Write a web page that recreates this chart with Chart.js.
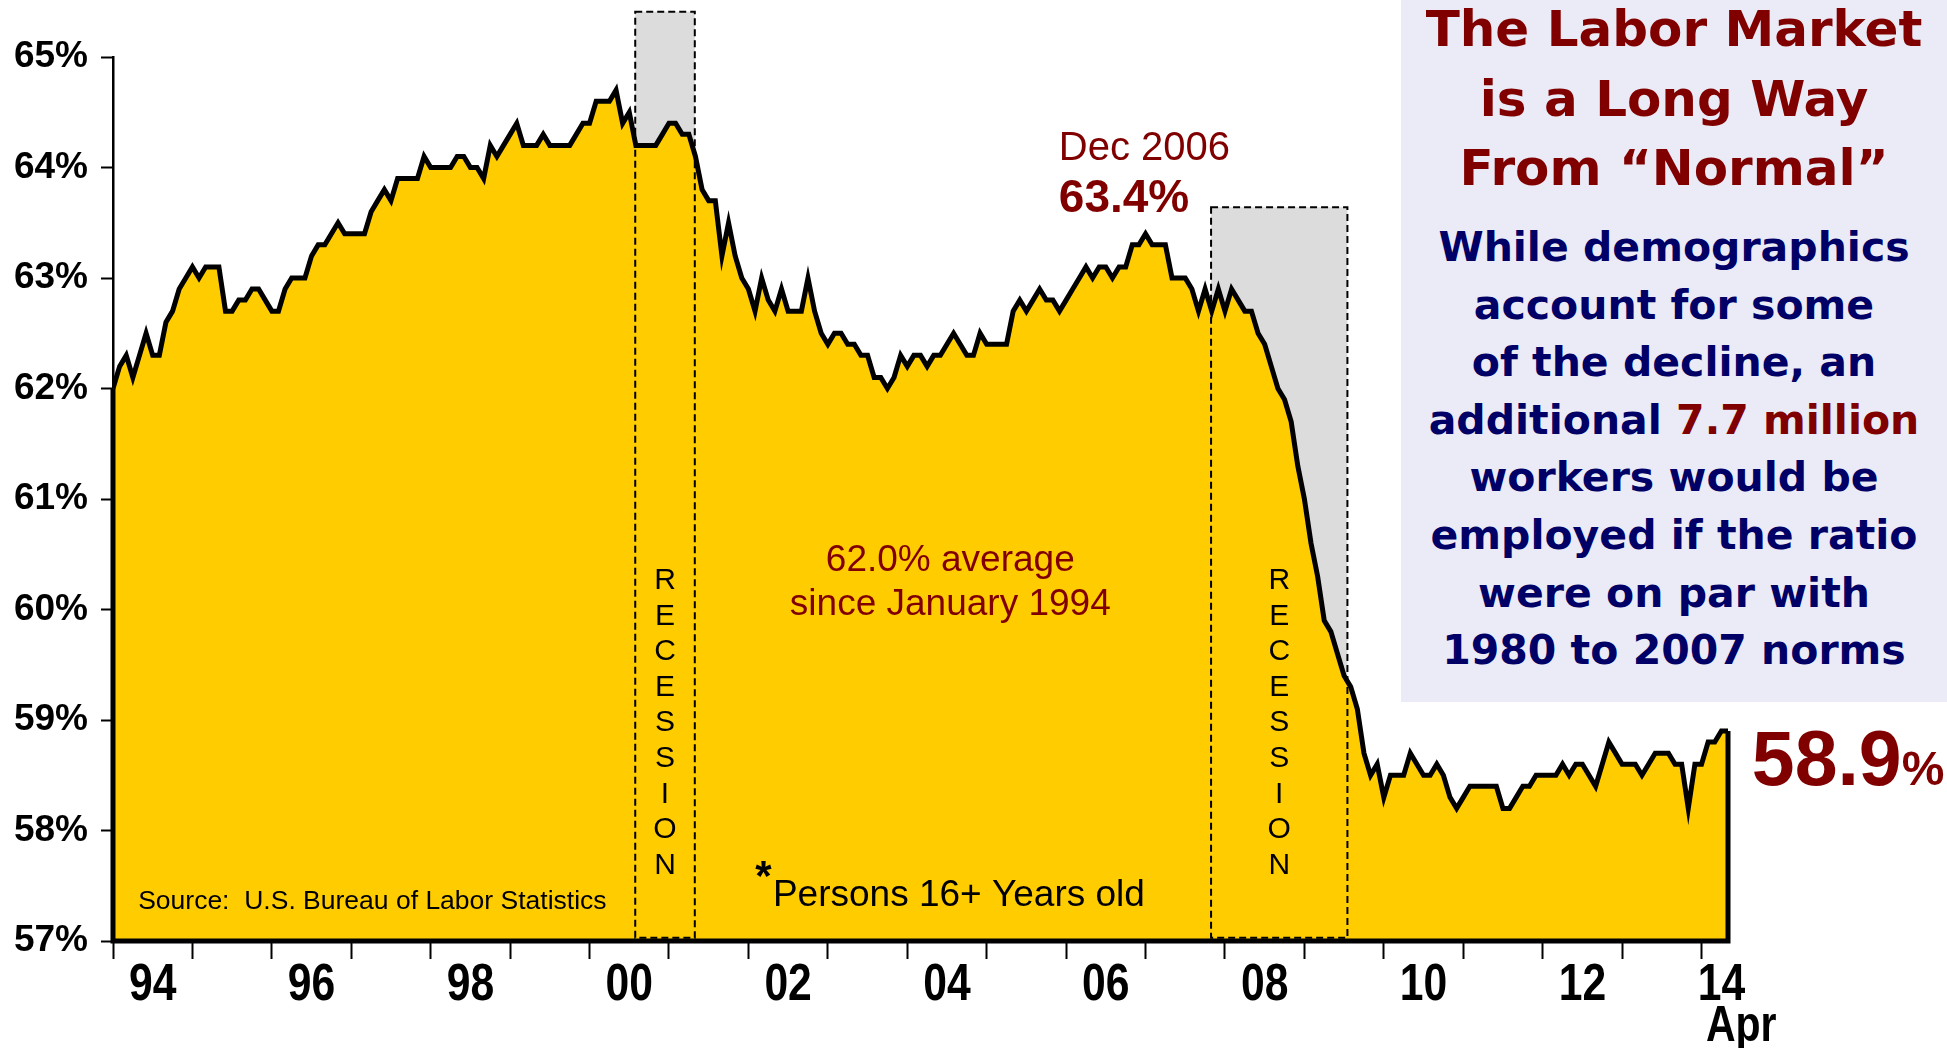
<!DOCTYPE html>
<html>
<head>
<meta charset="utf-8">
<title>The Labor Market is a Long Way From Normal</title>
<script src="https://cdn.jsdelivr.net/npm/chart.js@4.4.1/dist/chart.umd.min.js"></script>
<style>
  html, body { margin: 0; padding: 0; background: #fff; }
  #wrap { position: relative; width: 1947px; height: 1048px; overflow: hidden; }
  #panel {
    position: absolute; left: 1401px; top: 0; width: 546px; height: 702px;
    background: #EBEBF7; text-align: center;
    font-family: "DejaVu Sans", sans-serif; font-weight: bold;
  }
  #title { position: absolute; left: 0; top: -5px; width: 100%; font-size: 50px; line-height: 69.5px; color: #800000; }
  #body { position: absolute; left: 0; top: 219px; width: 100%; font-size: 41px; line-height: 57.6px; color: #000066; }
  #body .red { color: #800000; }
  #chartBox { position: absolute; left: 0; top: 0; width: 1947px; height: 1048px; }
</style>
</head>
<body>
<div id="wrap">
  <div id="panel">
    <div id="title">The Labor Market<br>is a Long Way<br>From “Normal”</div>
    <div id="body">While demographics<br>account for some<br>of the decline, an<br>additional <span class="red">7.7 million</span><br>workers would be<br>employed if the ratio<br>were on par with<br>1980 to 2007 norms</div>
  </div>
  <div id="chartBox"><canvas id="ratioChart"></canvas></div>
</div>
<script>
// Employment-population ratio, monthly, Dec 1993 .. Apr 2014 (x = month index from Dec 1993)
const ratio1993 = [62.0];
const ratio1994 = [62.2, 62.3, 62.1, 62.3, 62.5, 62.3, 62.3, 62.6, 62.7, 62.9, 63.0, 63.1];
const ratio1995 = [63.0, 63.1, 63.1, 63.1, 62.7, 62.7, 62.8, 62.8, 62.9, 62.9, 62.8, 62.7];
const ratio1996 = [62.7, 62.9, 63.0, 63.0, 63.0, 63.2, 63.3, 63.3, 63.4, 63.5, 63.4, 63.4];
const ratio1997 = [63.4, 63.4, 63.6, 63.7, 63.8, 63.7, 63.9, 63.9, 63.9, 63.9, 64.1, 64.0];
const ratio1998 = [64.0, 64.0, 64.0, 64.1, 64.1, 64.0, 64.0, 63.9, 64.2, 64.1, 64.2, 64.3];
const ratio1999 = [64.4, 64.2, 64.2, 64.2, 64.3, 64.2, 64.2, 64.2, 64.2, 64.3, 64.4, 64.4];
const ratio2000 = [64.6, 64.6, 64.6, 64.7, 64.4, 64.5, 64.2, 64.2, 64.2, 64.2, 64.3, 64.4];
const ratio2001 = [64.4, 64.3, 64.3, 64.1, 63.8, 63.7, 63.7, 63.2, 63.5, 63.2, 63.0, 62.9];
const ratio2002 = [62.7, 63.0, 62.8, 62.7, 62.9, 62.7, 62.7, 62.7, 63.0, 62.7, 62.5, 62.4];
const ratio2003 = [62.5, 62.5, 62.4, 62.4, 62.3, 62.3, 62.1, 62.1, 62.0, 62.1, 62.3, 62.2];
const ratio2004 = [62.3, 62.3, 62.2, 62.3, 62.3, 62.4, 62.5, 62.4, 62.3, 62.3, 62.5, 62.4];
const ratio2005 = [62.4, 62.4, 62.4, 62.7, 62.8, 62.7, 62.8, 62.9, 62.8, 62.8, 62.7, 62.8];
const ratio2006 = [62.9, 63.0, 63.1, 63.0, 63.1, 63.1, 63.0, 63.1, 63.1, 63.3, 63.3, 63.4];
const ratio2007 = [63.3, 63.3, 63.3, 63.0, 63.0, 63.0, 62.9, 62.7, 62.9, 62.7, 62.9, 62.7];
const ratio2008 = [62.9, 62.8, 62.7, 62.7, 62.5, 62.4, 62.2, 62.0, 61.9, 61.7, 61.3, 61.0];
const ratio2009 = [60.6, 60.3, 59.9, 59.8, 59.6, 59.4, 59.3, 59.1, 58.7, 58.5, 58.6, 58.3];
const ratio2010 = [58.5, 58.5, 58.5, 58.7, 58.6, 58.5, 58.5, 58.6, 58.5, 58.3, 58.2, 58.3];
const ratio2011 = [58.4, 58.4, 58.4, 58.4, 58.4, 58.2, 58.2, 58.3, 58.4, 58.4, 58.5, 58.5];
const ratio2012 = [58.5, 58.5, 58.6, 58.5, 58.6, 58.6, 58.5, 58.4, 58.6, 58.8, 58.7, 58.6];
const ratio2013 = [58.6, 58.6, 58.5, 58.6, 58.7, 58.7, 58.7, 58.6, 58.6, 58.2, 58.6, 58.6];
const ratio2014 = [58.8, 58.8, 58.9, 58.9];

// x axis: year boundaries every 12 months, labels sit mid-year
const yearLabels = ['94', '96', '98', '00', '02', '04', '06', '08', '10', '12', '14'];
const yearLabelAt = [6, 30, 54, 78, 102, 126, 150, 174, 198, 222, 243];
const yTicks = [57, 58, 59, 60, 61, 62, 63, 64, 65];

// recession bands (month index) and the top of each shaded box (ratio %)
const recessionStart = [78.9, 165.9];
const recessionEnd = [87.9, 186.5];
const recessionTop = [65.41, 63.64];

const ratio = [].concat(ratio1993, ratio1994, ratio1995, ratio1996, ratio1997, ratio1998,
  ratio1999, ratio2000, ratio2001, ratio2002, ratio2003, ratio2004, ratio2005, ratio2006,
  ratio2007, ratio2008, ratio2009, ratio2010, ratio2011, ratio2012, ratio2013, ratio2014);
const lastIdx = ratio.length - 1;

const ARIAL = '"Liberation Sans", Arial, sans-serif';
const DARK_RED = '#800000';
const NARROW = 0.82; // the axis year labels are a condensed bold face

// text notes placed in data units
const notes = [
  { text: 'Dec 2006', x: 142.9, y: 64.17, align: 'left', font: '40px ' + ARIAL, color: DARK_RED },
  { text: '63.4%', x: 142.9, y: 63.71, align: 'left', font: 'bold 46px ' + ARIAL, color: DARK_RED },
  { text: '62.0% average', x: 126.5, y: 60.44, align: 'center', font: '37px ' + ARIAL, color: DARK_RED },
  { text: 'since January 1994', x: 126.5, y: 60.04, align: 'center', font: '37px ' + ARIAL, color: DARK_RED },
  { text: 'Source:  U.S. Bureau of Labor Statistics', x: 3.8, y: 57.36, align: 'left', font: '26.5px ' + ARIAL, color: '#000' },
  { text: 'Persons 16+ Years old', x: 99.7, y: 57.41, align: 'left', font: '37px ' + ARIAL, color: '#000' }
];

function narrowText(ctx, text, px, py) {
  ctx.save();
  ctx.scale(NARROW, 1);
  ctx.fillText(text, px / NARROW, py);
  ctx.restore();
}

const annotations = {
  id: 'annotations',
  beforeDatasetsDraw(chart) {
    const { ctx, scales: { x, y } } = chart;
    ctx.save();
    ctx.fillStyle = '#DCDCDC';
    recessionStart.forEach((s, k) => {
      const l = x.getPixelForValue(s), r = x.getPixelForValue(recessionEnd[k]);
      const t = y.getPixelForValue(recessionTop[k]), b = y.getPixelForValue(57.03);
      ctx.fillRect(l, t, r - l, b - t);
    });
    ctx.restore();
  },
  afterDatasetsDraw(chart) {
    const { ctx, chartArea, scales: { x, y } } = chart;
    ctx.save();

    // closing outline of the area
    ctx.strokeStyle = '#000';
    ctx.lineWidth = 5;
    ctx.beginPath();
    ctx.moveTo(x.getPixelForValue(0), y.getPixelForValue(ratio[0]));
    ctx.lineTo(x.getPixelForValue(0), chartArea.bottom);
    ctx.lineTo(x.getPixelForValue(lastIdx), chartArea.bottom);
    ctx.lineTo(x.getPixelForValue(lastIdx), y.getPixelForValue(ratio[lastIdx]));
    ctx.stroke();

    // dashed recession boxes + vertical label
    ctx.lineWidth = 2;
    ctx.setLineDash([7, 4]);
    recessionStart.forEach((s, k) => {
      const l = x.getPixelForValue(s), r = x.getPixelForValue(recessionEnd[k]);
      const t = y.getPixelForValue(recessionTop[k]), b = y.getPixelForValue(57.03);
      ctx.strokeRect(l, t, r - l, b - t);
      ctx.fillStyle = '#000';
      ctx.font = '30px ' + ARIAL;
      ctx.textAlign = 'center';
      ctx.textBaseline = 'middle';
      const cx = (l + r) / 2;
      'RECESSION'.split('').forEach((ch, n) => {
        ctx.fillText(ch, cx, y.getPixelForValue(60.26 - n * 0.322));
      });
    });
    ctx.setLineDash([]);

    // notes
    notes.forEach(n => {
      ctx.font = n.font;
      ctx.fillStyle = n.color;
      ctx.textAlign = n.align;
      ctx.textBaseline = 'middle';
      ctx.fillText(n.text, x.getPixelForValue(n.x), y.getPixelForValue(n.y));
    });
    // raised asterisk in front of "Persons"
    ctx.font = 'bold 42px ' + ARIAL;
    ctx.fillStyle = '#000';
    ctx.textAlign = 'right';
    ctx.textBaseline = 'alphabetic';
    ctx.fillText('*', x.getPixelForValue(99.5), y.getPixelForValue(57.41) - 6);

    // latest value
    const lx = x.getPixelForValue(247.6), ly = y.getPixelForValue(58.66);
    ctx.textAlign = 'left';
    ctx.fillStyle = DARK_RED;
    ctx.font = 'bold 77px ' + ARIAL;
    ctx.textBaseline = 'alphabetic';
    const big = '58.9';
    ctx.fillText(big, lx, ly + 27);
    const w = ctx.measureText(big).width;
    ctx.font = 'bold 48px ' + ARIAL;
    ctx.fillText('%', lx + w, ly + 27);

    // year labels (condensed bold)
    ctx.fillStyle = '#000';
    ctx.font = 'bold 52px ' + ARIAL;
    ctx.textAlign = 'center';
    ctx.textBaseline = 'middle';
    yearLabels.forEach((lab, k) => {
      narrowText(ctx, lab, x.getPixelForValue(yearLabelAt[k]), x.top + 45);
    });
    ctx.font = 'bold 50px ' + ARIAL;
    narrowText(ctx, 'Apr', x.getPixelForValue(246), x.top + 86);

    ctx.restore();
  }
};

const ctx = document.getElementById('ratioChart').getContext('2d');
const ratioChart = new Chart(ctx, {
  type: 'line',
  data: {
    datasets: [{
      data: ratio.map((v, i) => ({ x: i, y: v })),
      borderColor: '#000',
      borderWidth: 5,
      backgroundColor: '#FFCC00',
      fill: 'start',
      pointRadius: 0,
      tension: 0,
      borderJoinStyle: 'miter'
    }]
  },
  options: {
    responsive: true,
    maintainAspectRatio: false,
    animation: false,
    layout: { padding: { top: 57, right: 219, bottom: 0, left: 0 } },
    plugins: { legend: { display: false }, tooltip: { enabled: false } },
    scales: {
      x: {
        type: 'linear',
        min: 0,
        max: lastIdx,
        afterFit: axis => { axis.height = 107; },
        ticks: { stepSize: 12, includeBounds: false, autoSkip: false, callback: () => '' },
        grid: { drawOnChartArea: false, tickLength: 18, tickWidth: 2, tickColor: '#000' },
        border: { color: '#000', width: 4 }
      },
      y: {
        min: yTicks[0],
        max: yTicks[yTicks.length - 1],
        afterFit: axis => { axis.width = 113; },
        ticks: {
          stepSize: 1,
          color: '#000',
          padding: 13,
          font: { family: ARIAL, size: 37, weight: 'bold' },
          callback: v => v + '%'
        },
        grid: { drawOnChartArea: false, tickLength: 12, tickWidth: 2, tickColor: '#000' },
        border: { color: '#000', width: 2.5 }
      }
    }
  },
  plugins: [annotations]
});
</script>
</body>
</html>
